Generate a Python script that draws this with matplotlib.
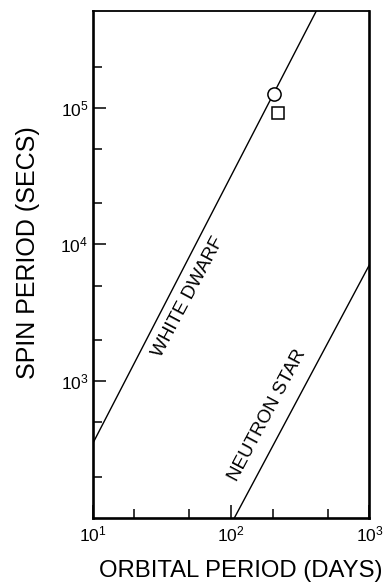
import matplotlib
matplotlib.use('Agg')
from matplotlib import pyplot as plt
from matplotlib.ticker import FixedLocator, FixedFormatter, NullFormatter

plt.rcParams['font.family'] = ['Liberation Sans', 'DejaVu Sans']
plt.rcParams['mathtext.fontset'] = 'custom'
plt.rcParams['mathtext.rm'] = 'Liberation Sans'
plt.rcParams['mathtext.it'] = 'Liberation Sans'
plt.rcParams['mathtext.bf'] = 'Liberation Sans'

# white dwarf and neutron star limit lines
wd_orbital = [10, 412]
wd_spin = [346, 5.08e5]
ns_orbital = [106, 1000]
ns_spin = [100, 7.1e3]

# observed systems
circle_orbital = [205]
circle_spin = [1.26e5]
square_orbital = [220]
square_spin = [9.2e4]

x_major = [10, 100, 1000]
x_major_labels = [r'$10^{1}$', r'$10^{2}$', r'$10^{3}$']
x_minor = [20, 50, 200, 500]
y_major = [1e3, 1e4, 1e5]
y_major_labels = [r'$10^{3}$', r'$10^{4}$', r'$10^{5}$']
y_minor = [200, 500, 2e3, 5e3, 2e4, 5e4, 2e5]

fig = plt.figure(figsize=(3.91, 5.86), dpi=100)
ax = fig.add_axes([0.2366, 0.1166, 0.7084, 0.8646])

ax.plot(wd_orbital, wd_spin, color='black', linewidth=1.0)
ax.plot(ns_orbital, ns_spin, color='black', linewidth=1.0)
ax.plot(circle_orbital, circle_spin, linestyle='none', marker='o', markersize=9.5,
        markerfacecolor='white', markeredgecolor='black', markeredgewidth=1.1)
ax.plot(square_orbital, square_spin, linestyle='none', marker='s', markersize=9,
        markerfacecolor='white', markeredgecolor='black', markeredgewidth=1.1)

ax.set_xscale('log')
ax.set_yscale('log')
ax.set_xlim(10, 1000)
ax.set_ylim(100, 5.1e5)

ax.xaxis.set_major_locator(FixedLocator(x_major))
ax.xaxis.set_major_formatter(FixedFormatter(x_major_labels))
ax.xaxis.set_minor_locator(FixedLocator(x_minor))
ax.xaxis.set_minor_formatter(NullFormatter())
ax.yaxis.set_major_locator(FixedLocator(y_major))
ax.yaxis.set_major_formatter(FixedFormatter(y_major_labels))
ax.yaxis.set_minor_locator(FixedLocator(y_minor))
ax.yaxis.set_minor_formatter(NullFormatter())

ax.tick_params(which='both', direction='in', top=False, right=False, width=1.1)
ax.tick_params(which='major', length=9.5, labelsize=12.5)
ax.tick_params(which='minor', length=6.5)
ax.tick_params(axis='x', pad=5)
ax.tick_params(axis='y', pad=3)

for side in ['left', 'bottom', 'right']:
    ax.spines[side].set_linewidth(1.9)
ax.spines['top'].set_linewidth(1.3)

ax.set_xlabel('ORBITAL PERIOD (DAYS)', fontsize=17.2)
ax.set_ylabel('SPIN PERIOD (SECS)', fontsize=18)
ax.xaxis.set_label_coords(0.534, -0.084)
ax.yaxis.set_label_coords(-0.19, 0.523)

ax.text(49, 4.15e3, 'WHITE DWARF', rotation=62, ha='center', va='center', fontsize=13.5)
ax.text(184, 560, 'NEUTRON STAR', rotation=62, ha='center', va='center', fontsize=13.5)

fig.savefig('out.png', dpi=100)
